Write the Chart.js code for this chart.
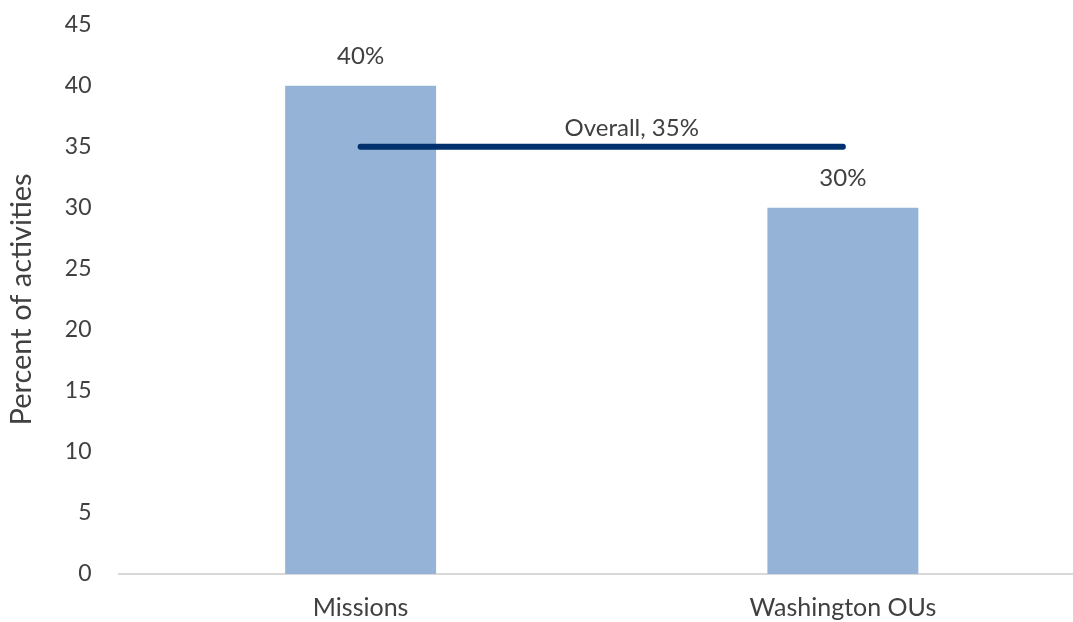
<!DOCTYPE html>
<html>
<head>
<meta charset="utf-8">
<script src="https://cdn.jsdelivr.net/npm/chart.js@4/dist/chart.umd.min.js"></script>
<style>
  html, body { margin: 0; padding: 0; background: #fff; overflow: hidden; }
  #wrap { width: 1084px; height: 639px; margin-top: -17px; }
</style>
</head>
<body>
<div id="wrap"><canvas id="myChart" width="1084" height="639"></canvas></div>
<script>
// categories and values
const categories = ['Missions', 'Washington OUs'];
const shares = [40, 30];
const overall = [35, 35];
const overallLabel = 'Overall, 35%';
const yTicks = [0, 5, 10, 15, 20, 25, 30, 35, 40, 45];

const textColor = '#404040';
const fontFamily = "Lato, 'Open Sans', sans-serif";

// value labels over the bars + label for the overall line
const labelsPlugin = {
  id: 'labelsPlugin',
  afterDatasetsDraw(chart) {
    const ctx = chart.ctx;
    ctx.save();
    ctx.fillStyle = textColor;
    ctx.font = '24px ' + fontFamily;
    ctx.textAlign = 'center';
    ctx.textBaseline = 'middle';
    chart.getDatasetMeta(0).data.forEach((bar, i) => {
      ctx.fillText(shares[i] + '%', bar.x, bar.y - 30);
    });
    const pts = chart.getDatasetMeta(1).data;
    const midX = (pts[0].x + pts[1].x) / 2;
    ctx.fillText(overallLabel, midX + 30, pts[0].y - 19);
    ctx.restore();
  }
};

new Chart(document.getElementById('myChart'), {
  data: {
    labels: categories,
    datasets: [
      {
        type: 'bar',
        data: shares,
        backgroundColor: '#95B3D7',
        barPercentage: 0.313,
        categoryPercentage: 1,
        order: 2
      },
      {
        type: 'line',
        data: overall,
        borderColor: '#00306E',
        borderWidth: 6,
        borderCapStyle: 'round',
        pointRadius: 0,
        fill: false,
        order: 1
      }
    ]
  },
  options: {
    responsive: false,
    animation: false,
    layout: { padding: { top: -13, left: 4, bottom: -20 } },
    plugins: {
      legend: { display: false },
      tooltip: { enabled: false }
    },
    scales: {
      x: {
        grid: { display: false, drawTicks: false },
        border: { color: '#D9D9D9', width: 2 },
        ticks: { color: textColor, font: { family: fontFamily, size: 25 }, padding: 19 }
      },
      y: {
        min: 0,
        max: 45,
        afterBuildTicks(axis) { axis.ticks = yTicks.map(v => ({ value: v })); },
        grid: { display: false, drawTicks: false },
        border: { display: false },
        ticks: { color: textColor, font: { family: fontFamily, size: 23 }, padding: 28 },
        title: {
          display: true,
          text: 'Percent of activities',
          color: textColor,
          font: { family: fontFamily, size: 29 },
          padding: { top: 0, bottom: -2 }
        }
      }
    }
  },
  plugins: [labelsPlugin]
});
</script>
</body>
</html>
